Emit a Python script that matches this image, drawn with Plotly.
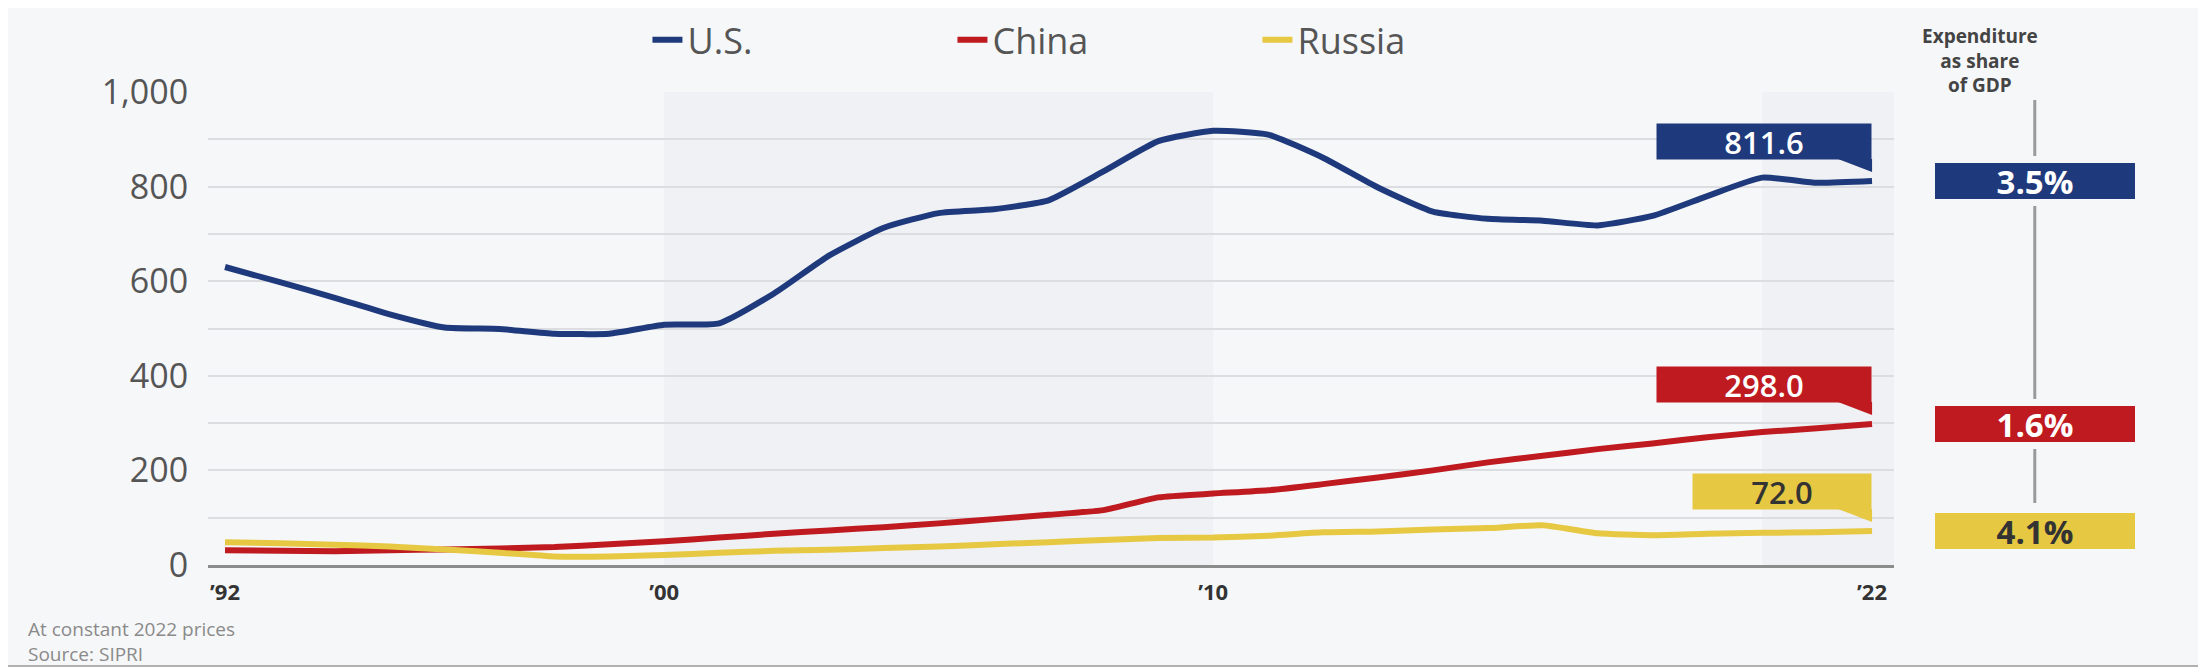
import plotly.graph_objects as go

years = list(range(1992, 2023))
us = [630, 598, 565, 530, 502, 499, 489, 489, 508, 511, 574, 654, 713, 744, 752, 771,
      832, 896, 918, 910, 861, 798, 747, 732, 728, 718, 738, 780, 819, 808, 811.6]
china = [31, 30, 29, 31, 33, 35, 38, 44, 50, 58, 66, 73, 80, 88, 97, 106,
         116, 143, 151, 158, 171, 185, 200, 217, 231, 245, 257, 270, 281, 289, 298.0]
russia = [48, 46, 43, 39, 33, 26, 18, 18, 21, 26, 30, 32, 36, 39, 44, 48,
          53, 57, 58, 62, 69, 71, 75, 78, 84, 67, 63, 66, 68, 69, 72.0]
names = ["U.S.", "China", "Russia"]
gdp_share = [3.5, 1.6, 4.1]
tick_years = [1992, 2000, 2010, 2022]
tick_text = ["\u201992", "\u201900", "\u201910", "\u201922"]
bands = [(2000, 2010), (2020, 2022.4)]

colors = ["#1f3a7c", "#be1a1f", "#e6c843"]
box_text = ["white", "white", "#333333"]
bg = "#f6f7f9"
font = "Open Sans"

fig = go.Figure()
for name, vals, c in zip(names, [us, china, russia], colors):
    fig.add_trace(go.Scatter(x=years, y=vals, name=name, mode="lines",
                             line=dict(color=c, width=6, shape="spline", smoothing=0.5),
                             hoverinfo="skip"))

# decade shading
for x0, x1 in bands:
    fig.add_shape(type="rect", xref="x", yref="paper", x0=x0, x1=x1, y0=0, y1=1,
                  fillcolor="#eff1f4", line_width=0, layer="below")

# end value boxes with little tails
for vals, c, tc in zip([us, china, russia], colors, box_text):
    label = f"{vals[-1]:.1f}"
    fig.add_annotation(x=years[-1], y=vals[-1], xref="x", yref="y", text=label,
                       showarrow=False, xanchor="right", yanchor="bottom", yshift=21,
                       width=214 if len(label) > 4 else 178, height=35, bgcolor=c,
                       borderpad=0,
                       font=dict(family=font, size=31, color=tc, weight=600))
    fig.add_shape(type="path", xref="x", yref="y", xsizemode="pixel", ysizemode="pixel",
                  xanchor=years[-1], yanchor=vals[-1],
                  path="M -34,22 L 0,22 L 0,9 Z", fillcolor=c, line_width=0)

# share of GDP column
gx = 1.0835
fig.add_shape(type="line", xref="paper", yref="paper", x0=gx, x1=gx, y0=0.131, y1=0.983,
              line=dict(color="#9a9a9a", width=3))
fig.add_annotation(xref="paper", yref="paper", x=gx + 0.003, y=1.15, yanchor="top",
                   text="<b>Expenditure<br>as share<br>of GDP</b>", showarrow=False,
                   font=dict(family=font, size=19, color="#444444"))
for vals, share, c, tc in zip([us, china, russia], gdp_share, colors, box_text):
    fig.add_annotation(xref="paper", yref="y", x=gx, y=vals[-1], text=f"<b>{share}%</b>",
                       showarrow=False, xanchor="center", yanchor="middle",
                       width=200, height=36, bgcolor=c, bordercolor=bg, borderwidth=7,
                       borderpad=0, font=dict(family=font, size=33, color=tc))

# footnote
fig.add_annotation(xref="paper", yref="paper", x=-0.108, y=-0.104, xanchor="left",
                   yanchor="top", align="left",
                   text="At constant 2022 prices<br>Source: SIPRI", showarrow=False,
                   font=dict(family=font, size=19, color="#8a8a8a"))

# bottom white strip
fig.add_shape(type="rect", xref="paper", yref="paper", x0=-0.2, x1=1.3, y0=-0.35, y1=-0.2135,
              fillcolor="white", line_width=0, layer="below")
fig.add_shape(type="line", xref="paper", yref="paper", x0=-0.2, x1=1.3, y0=-0.2135, y1=-0.2135,
              line=dict(color="#b0b0b0", width=2), layer="below")

fig.update_layout(
    width=2206, height=672,
    margin=dict(l=200, r=320, t=84, b=115, autoexpand=False),
    paper_bgcolor=bg, plot_bgcolor=bg,
    font=dict(family=font),
    showlegend=True,
    legend=dict(orientation="h", x=0.532, xanchor="center", y=1.11, yanchor="middle",
                font=dict(family=font, size=36, color="#555555"), bgcolor="rgba(0,0,0,0)",
                itemwidth=30, entrywidth=260),
    xaxis=dict(range=[1991.69, 2022.4], tickvals=tick_years, ticktext=tick_text,
               showgrid=False, zeroline=False, showline=True, linecolor="#8c8c8c",
               linewidth=2.5, ticks="outside", ticklen=6, tickcolor="rgba(0,0,0,0)",
               tickfont=dict(family=font, size=22, color="#333333", weight="bold"),
               automargin=False),
    yaxis=dict(range=[0, 1000], dtick=200, tickformat=",", showgrid=True,
               gridcolor="#dcdde0", gridwidth=1.5, zeroline=False,
               minor=dict(dtick=100, showgrid=True, gridcolor="#dcdde0", gridwidth=1.5),
               ticks="outside", ticklen=12, tickcolor="rgba(0,0,0,0)",
               tickfont=dict(family=font, size=34, color="#555555"), automargin=False),
)

fig.write_html("out.html")
